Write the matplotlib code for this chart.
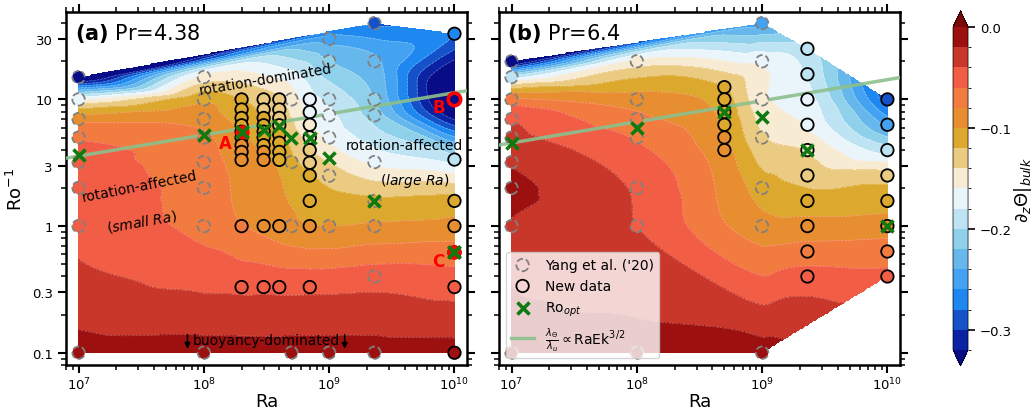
import numpy as np
import matplotlib.pyplot as plt
import matplotlib.tri as mtri
from matplotlib.colors import ListedColormap, BoundaryNorm
from matplotlib.ticker import LogLocator, NullFormatter, FixedLocator, FixedFormatter

# ---------------- data, panel (a): Pr = 4.38 ----------------
yang_a_ra = [1e7, 1e8, 5e8, 1e9, 2.3e9]
yang_a_ro = [[15, 10, 7, 5, 3.2, 2, 1, 0.1],
             [15, 10, 7, 5, 3.2, 2, 1, 0.1],
             [10, 3.2, 1, 0.1],
             [30, 20, 10, 7.5, 5, 2.5, 1, 0.1],
             [40, 20, 10, 7.5, 3.2, 1.58, 1, 0.4, 0.1]]
yang_a_val = [[-0.36, -0.165, -0.088, -0.062, -0.052, -0.045, -0.046, -0.012],
              [-0.155, -0.105, -0.088, -0.076, -0.072, -0.07, -0.066, -0.012],
              [-0.15, -0.115, -0.095, -0.012],
              [-0.25, -0.22, -0.185, -0.175, -0.165, -0.128, -0.1, -0.012],
              [-0.285, -0.235, -0.22, -0.21, -0.165, -0.116, -0.097, -0.05, -0.012]]

new_a_ra = [2e8, 3e8, 4e8, 7e8, 1e10]
new_a_ro = [[10, 8.33, 7.14, 6.25, 5.56, 5, 4.35, 3.85, 3.33, 1, 0.33],
            [10, 8.33, 7.14, 6.25, 5.56, 5, 4.35, 3.85, 3.33, 1, 0.33],
            [10, 8.33, 7.14, 6.25, 5.26, 4.55, 3.85, 3.33, 1, 0.33],
            [10, 7.94, 6.31, 5.01, 3.98, 3.16, 2.51, 1.58, 1, 0.33],
            [33, 10, 3.35, 1.58, 1, 0.62, 0.33, 0.1]]
new_a_val = [[-0.12, -0.115, -0.109, -0.104, -0.1, -0.097, -0.094, -0.091, -0.088, -0.079, -0.044],
             [-0.128, -0.123, -0.118, -0.114, -0.11, -0.107, -0.104, -0.1, -0.097, -0.085, -0.044],
             [-0.138, -0.132, -0.127, -0.122, -0.118, -0.113, -0.108, -0.104, -0.09, -0.045],
             [-0.172, -0.166, -0.158, -0.148, -0.138, -0.128, -0.118, -0.108, -0.099, -0.045],
             [-0.28, -0.365, -0.19, -0.112, -0.094, -0.07, -0.048, -0.012]]

opt_a_ra = [1e7, 1e8, 2e8, 3e8, 4e8, 5e8, 7e8, 1e9, 2.3e9, 1e10]
opt_a_ro = [3.66, 5.2, 5.5, 5.74, 6.2, 5.0, 5.0, 3.45, 1.58, 0.62]

line_a_ra = [5e6, 2e10]
line_a_ro = [3.18, 12.67]

# ---------------- data, panel (b): Pr = 6.4 ----------------
yang_b_ra = [1e7, 1e8, 1e9]
yang_b_ro = [[20, 15, 10, 7, 5, 3.2, 2, 1, 0.1],
             [20, 10, 7, 5, 2, 1, 0.1],
             [40, 20, 10, 5, 2, 1, 0.1]]
yang_b_val = [[-0.36, -0.19, -0.075, -0.042, -0.034, -0.022, -0.015, -0.021, -0.012],
              [-0.155, -0.09, -0.075, -0.062, -0.043, -0.04, -0.012],
              [-0.25, -0.165, -0.155, -0.138, -0.11, -0.092, -0.012]]

new_b_ra = [5e8, 2.3e9, 1e10]
new_b_ro = [[12.5, 10, 7.94, 6.31, 5.01, 3.98],
            [25.1, 15.8, 10, 6.31, 3.98, 2.51, 1.58, 1, 0.63, 0.4],
            [10, 6.31, 3.98, 2.51, 1.58, 1, 0.63, 0.4]]
new_b_val = [[-0.12, -0.112, -0.106, -0.102, -0.098, -0.094],
             [-0.195, -0.182, -0.172, -0.163, -0.142, -0.128, -0.112, -0.092, -0.072, -0.052],
             [-0.29, -0.245, -0.19, -0.13, -0.11, -0.09, -0.07, -0.055]]

opt_b_ra = [1e7, 1e8, 5e8, 1e9, 2.3e9, 1e10]
opt_b_ro = [4.5, 6.0, 7.9, 7.2, 4.0, 1.0]

line_b_ra = [5e6, 2e10]
line_b_ro = [4.04, 16.07]

# colour bands from -0.32 up to 0.0
band_colors = ['#0b22a2', '#1552c9', '#1e88f0', '#44a2f2', '#66b8ec', '#8fd0eb',
               '#bee4f3', '#eaf5fb', '#f8ebd4', '#ebcb82', '#dca82e', '#e68e30',
               '#f27b40', '#f25d46', '#c8372a', '#9c1010']
levels = np.linspace(-0.32, 0.0, 17)

cmap = ListedColormap(band_colors)
cmap.set_under('#080c86')
cmap.set_over('#7a0808')
norm = BoundaryNorm(levels, cmap.N)


def flatten(cols_ra, cols_ro, cols_val):
    ra = np.concatenate([[r] * len(ro) for r, ro in zip(cols_ra, cols_ro)])
    ro = np.concatenate(cols_ro)
    val = np.concatenate(cols_val)
    return ra, ro, val


def draw_panel(ax, yang, new, opt_ra, opt_ro, line_ra, line_ro):
    y_ra, y_ro, y_val = flatten(*yang)
    n_ra, n_ro, n_val = flatten(*new)
    lx = np.log10(np.concatenate([y_ra, n_ra]))
    ly = np.log10(np.concatenate([y_ro, n_ro]))
    vals = np.concatenate([y_val, n_val])

    # cubic interpolation on the Delaunay triangulation (log space)
    tri = mtri.Triangulation(lx, ly)
    interp = mtri.CubicTriInterpolator(tri, vals, kind='geom')
    gx, gy = np.meshgrid(np.linspace(lx.min(), lx.max(), 300),
                         np.linspace(ly.min(), ly.max(), 300))
    field = interp(gx, gy)

    cf = ax.contourf(10 ** gx, 10 ** gy, field, levels=levels, cmap=cmap, norm=norm,
                     extend='both', zorder=1)
    ax.contour(10 ** gx, 10 ** gy, field, levels=levels, colors='white',
               linewidths=0.5, alpha=0.35, zorder=1.5)

    ax.plot(line_ra, line_ro, color='#8cc08c', lw=2.5, alpha=0.9, zorder=3)
    ax.scatter(y_ra, y_ro, c=y_val, cmap=cmap, norm=norm, s=80, edgecolors='#808080',
               linewidths=1.3, linestyle='--', zorder=4)
    ax.scatter(n_ra, n_ro, c=n_val, cmap=cmap, norm=norm, s=80, edgecolors='black',
               linewidths=1.3, zorder=4)
    ax.scatter(opt_ra, opt_ro, marker='x', s=75, color='#107a10', linewidths=2.6, zorder=6)
    return cf


def style_axis(ax, left_labels=True):
    ax.set_xscale('log')
    ax.set_yscale('log')
    ax.set_xlim(10 ** 6.9, 10 ** 10.1)
    ax.set_ylim(0.08, 49)
    ax.yaxis.set_major_locator(FixedLocator([0.1, 0.3, 1, 3, 10, 30]))
    ax.yaxis.set_major_formatter(FixedFormatter(['0.1', '0.3', '1', '3', '10', '30']))
    ax.yaxis.set_minor_locator(LogLocator(base=10, subs=np.arange(2, 10), numticks=20))
    ax.yaxis.set_minor_formatter(NullFormatter())
    ax.xaxis.set_minor_locator(LogLocator(base=10, subs=np.arange(2, 10), numticks=20))
    ax.xaxis.set_minor_formatter(NullFormatter())
    ax.tick_params(which='both', direction='out', top=True, right=True, labelsize=9.5)
    ax.tick_params(which='major', length=6, width=1.5)
    ax.tick_params(which='minor', length=3.5, width=1.1)
    ax.tick_params(axis='x', pad=1.5)
    if not left_labels:
        ax.tick_params(labelleft=False)
    for sp in ax.spines.values():
        sp.set_linewidth(1.8)
    ax.set_xlabel('Ra', fontsize=13, labelpad=0)


fig = plt.figure(figsize=(10.35, 4.1), dpi=100)
ax_a = fig.add_axes([0.0638, 0.1073, 0.3874, 0.861])
ax_b = fig.add_axes([0.4821, 0.1073, 0.3874, 0.861])
cax = fig.add_axes([0.9208, 0.1049, 0.0145, 0.866])

cf = draw_panel(ax_a, (yang_a_ra, yang_a_ro, yang_a_val), (new_a_ra, new_a_ro, new_a_val),
                opt_a_ra, opt_a_ro, line_a_ra, line_a_ro)
draw_panel(ax_b, (yang_b_ra, yang_b_ro, yang_b_val), (new_b_ra, new_b_ro, new_b_val),
           opt_b_ra, opt_b_ro, line_b_ra, line_b_ro)

# special cases A, B, C in panel (a)
ax_a.scatter([2e8, 1e10], [5.56, 0.62], s=80, color='red', linewidths=1.3, zorder=5)
ax_a.scatter([1e10], [10], s=80, facecolors='none', edgecolors='red', linewidths=2.6, zorder=5)
ax_a.scatter([2e8, 1e10], [5.5, 0.62], marker='x', s=75, color='#107a10', linewidths=2.6, zorder=6)
for lab, xx, yy in [('A', 1.49e8, 4.53), ('B', 7.46e9, 8.73), ('C', 7.46e9, 0.528)]:
    ax_a.text(xx, yy, lab, color='red', fontsize=12, fontweight='bold',
              ha='center', va='center', zorder=7)

style_axis(ax_a)
style_axis(ax_b, left_labels=False)
ax_a.set_ylabel(r'Ro$^{-1}$', fontsize=13)

ax_a.text(0.022, 0.9235, r'$\mathbf{(a)}$ Pr=4.38', transform=ax_a.transAxes,
          fontsize=15, va='baseline')
ax_b.text(0.02, 0.9235, r'$\mathbf{(b)}$ Pr=6.4', transform=ax_b.transAxes,
          fontsize=15, va='baseline')

# regime annotations
ax_a.text(3.1e8, 14.5, 'rotation-dominated', fontsize=10, rotation=9.5,
          ha='center', va='center', rotation_mode='anchor', zorder=7)
ax_a.text(4.0e9, 4.37, 'rotation-affected', fontsize=10, ha='center', va='center', zorder=7)
ax_a.text(4.8e9, 2.31, r'($\it{large\ Ra}$)', fontsize=10, ha='center', va='center', zorder=7)
ax_a.text(3.07e7, 2.07, 'rotation-affected', fontsize=10, rotation=11,
          ha='center', va='center', rotation_mode='anchor', zorder=7)
ax_a.text(3.18e7, 1.095, r'($\it{small\ Ra}$)', fontsize=10, rotation=10,
          ha='center', va='center', rotation_mode='anchor', zorder=7)
ax_a.text(3.16e8, 0.1256, 'buoyancy-dominated', fontsize=10, ha='center', va='center', zorder=7)
for xx in [7.4e7, 1.33e9]:
    ax_a.annotate('', xy=(xx, 0.102), xytext=(xx, 0.146),
                  arrowprops=dict(arrowstyle='-|>', color='black', lw=1.2,
                                  mutation_scale=8), zorder=7)

# legend in panel (b)
h_yang = ax_b.scatter([], [], s=80, facecolors='none', edgecolors='#808080',
                      linewidths=1.3, linestyle='--')
h_new = ax_b.scatter([], [], s=80, facecolors='none', edgecolors='black', linewidths=1.3)
h_opt = ax_b.scatter([], [], marker='x', s=75, color='#107a10', linewidths=2.6)
h_line, = ax_b.plot([], [], color='#8cc08c', lw=2.5, alpha=0.9)
leg = ax_b.legend([h_yang, h_new, h_opt, h_line],
                  ["Yang et al. ('20)", 'New data', r'Ro$_{opt}$',
                   r'$\frac{\lambda_\Theta}{\lambda_u}\propto$RaEk$^{3/2}$'],
                  loc='lower left', fontsize=10, framealpha=0.8, handlelength=1.6)
leg.set_zorder(10)

cb = fig.colorbar(cf, cax=cax, ticks=[0.0, -0.1, -0.2, -0.3])
cb.set_label(r'$\partial_z\Theta|_{bulk}$', fontsize=13, labelpad=0)
cb.ax.tick_params(labelsize=9.5, length=5, width=1.2)
cb.outline.set_linewidth(0.5)

fig.savefig('out.png', dpi=100)
